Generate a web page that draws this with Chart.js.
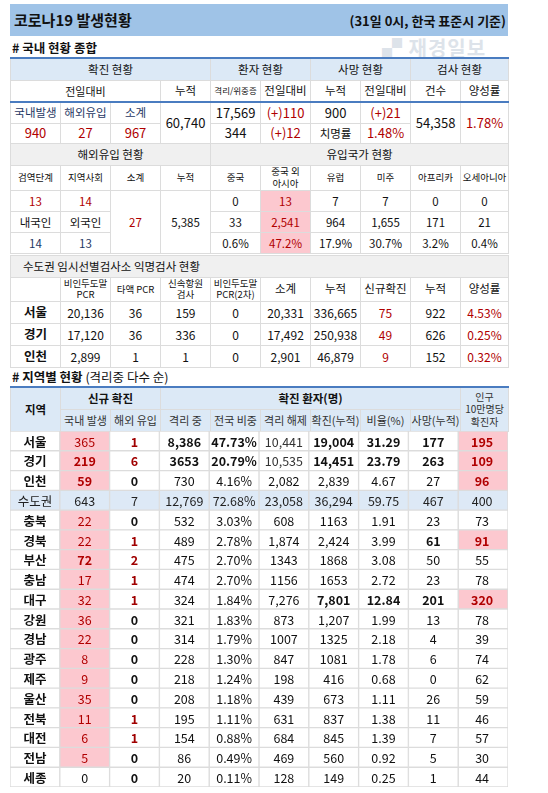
<!DOCTYPE html>
<html><head><meta charset="utf-8">
<script src="https://cdn.jsdelivr.net/npm/chart.js@4"></script>
<style>
body{margin:0;width:548px;height:793px;background:#fff;font-family:"Noto Sans CJK KR","Noto Sans",sans-serif;position:relative;overflow:hidden;color:#111}
.abs{position:absolute}
table{border-collapse:collapse;table-layout:fixed;position:absolute;left:10px;width:498px}
td{border:1px solid #dcdcdc;text-align:center;font-size:11.5px;padding:0;white-space:nowrap;overflow:hidden;line-height:1.1}
.r{color:#b00000}.b{font-weight:bold}.n{color:#1f3864}.pk{background:#fcc8cf}
.hb{background:#dce9f6}.hg{background:#f0f0f0}
.sm{font-size:9.5px}
</style></head><body>
<div class="abs" style="left:10px;top:4px;width:498px;height:32px;background:#9fc3e7"></div>
<div class="abs b" style="left:382px;top:33px;font-size:20px;color:#dde3ea;letter-spacing:1px">▞ 재경일보</div>
<div class="abs" style="left:14px;top:9px;font-size:15px;font-weight:600">코로나19 발생현황</div>
<div class="abs" style="right:42px;top:11px;font-size:13px;font-weight:600">(31일 0시, 한국 표준시 기준)</div>
<div class="abs" style="left:12px;top:38px;font-size:12.5px;font-weight:600"># 국내 현황 종합</div>

<table id="t1" style="top:57px;border-top:2px solid #4a7cc0">
<colgroup><col span="9" style="width:50px"><col style="width:48px"></colgroup>
<tr class="hb" style="height:22px"><td colspan="4">확진 현황</td><td colspan="2">환자 현황</td><td colspan="2">사망 현황</td><td colspan="2">검사 현황</td></tr>
<tr style="height:22px;border-bottom:2px solid #4a7cc0" class="sm"><td colspan="3" style="font-size:11px">전일대비</td><td>누적</td><td style="font-size:8.5px">격리/위중증</td><td>전일대비</td><td>누적</td><td>전일대비</td><td>건수</td><td>양성률</td></tr>
<tr style="height:21px"><td class="n">국내발생</td><td class="n">해외유입</td><td class="n">소계</td><td rowspan="2" id="c_total"></td><td id="c_iso"></td><td class="r" id="c_isod"></td><td id="c_death"></td><td class="r" id="c_dd"></td><td rowspan="2" id="c_tests"></td><td rowspan="2" class="r" id="c_pos"></td></tr>
<tr style="height:21px;border-bottom:3px solid #c8c8c8"><td class="r" id="c_dom"></td><td class="r" id="c_imp"></td><td class="r" id="c_sub"></td><td id="c_crit"></td><td class="r" id="c_critd"></td><td>치명률</td><td class="r" id="c_fat"></td></tr>
</table>

<table id="t2" style="top:143px">
<colgroup><col span="9" style="width:50px"><col style="width:48px"></colgroup>
<tr class="hg" style="height:22px"><td colspan="4">해외유입 현황</td><td colspan="6">유입국가 현황</td></tr>
<tr style="height:25px" id="t2h"></tr>
<tr style="height:21px" id="t2a"></tr>
<tr style="height:21px" id="t2b"></tr>
<tr style="height:21px" id="t2c"></tr>
</table>

<table id="t3" style="top:255px">
<colgroup><col span="9" style="width:50px"><col style="width:48px"></colgroup>
<tr class="hg" style="height:22px"><td colspan="10" style="text-align:left;padding-left:12px;font-size:11.5px">수도권 임시선별검사소 익명검사 현황</td></tr>
<tr style="height:23px" id="t3h"></tr>
</table>

<div class="abs" style="left:12px;top:367px;font-size:12.5px;font-weight:600"># 지역별 현황 <span style="font-weight:normal">(격리중 다수 순)</span></div>
<table style="top:386px;border-top:2px solid #4a7cc0">
<colgroup><col span="9" style="width:50px"><col style="width:48px"></colgroup>
<tr class="hb" style="height:22px"><td rowspan="2" class="b">지역</td><td colspan="2" class="b">신규 확진</td><td colspan="6" class="b">확진 환자(명)</td><td rowspan="2" style="font-size:10px;line-height:1.25;color:#333">인구<br>10만명당<br>확진자</td></tr>
<tr class="hb" style="height:22px" id="rh"></tr>
</table>
<div class="abs" style="left:10px;top:431px;width:498px;height:356px"><canvas id="c"></canvas></div>

<script>
// ---- top summary ----
const summary = {total:"60,740",iso:"17,569",isod:"(+)110",death:"900",dd:"(+)21",tests:"54,358",pos:"1.78%",dom:"940",imp:"27",sub:"967",crit:"344",critd:"(+)12",fat:"1.48%"};
const importHeaders = ["검역단계","지역사회","소계","누적","중국","중국 외<br>아시아","유럽","미주","아프리카","오세아니아"];
const importStage = ["13","14"], importOrigin = ["내국인","외국인"], importNat = ["14","13"];
const importSubtotal = "27", importCum = "5,385";
const originToday = ["0","13","7","7","0","0"];
const originCum = ["33","2,541","964","1,655","171","21"];
const originPct = ["0.6%","47.2%","17.9%","30.7%","3.2%","0.4%"];
const testHeaders = ["","비인두도말<br>PCR","타액 PCR","신속항원<br>검사","비인두도말<br>PCR(2차)","소계","누적","신규확진","누적","양성률"];
const testRegions = ["서울","경기","인천"];
const testRows = [
 ["20,136","36","159","0","20,331","336,665","75","922","4.53%"],
 ["17,120","36","336","0","17,492","250,938","49","626","0.25%"],
 ["2,899","1","1","0","2,901","46,879","9","152","0.32%"]];
// ---- regional ----
const regionHeaders = ["국내 발생","해외 유입","격리 중","전국 비중","격리 해제","확진(누적)","비율(%)","사망(누적)"];
const regions = ["서울","경기","인천","수도권","충북","경북","부산","충남","대구","강원","경남","광주","제주","울산","전북","대전","전남","세종"];
const domestic = [365,219,59,643,22,22,72,17,32,36,22,8,9,35,11,6,5,0];
const imported = [1,6,0,7,0,1,2,1,1,0,0,0,0,0,1,1,0,0];
const isolated = ["8,386","3653","730","12,769","532","489","475","474","324","321","314","228","218","208","195","154","86","20"];
const share = ["47.73%","20.79%","4.16%","72.68%","3.03%","2.78%","2.70%","2.70%","1.84%","1.83%","1.79%","1.30%","1.24%","1.18%","1.11%","0.88%","0.49%","0.11%"];
const released = ["10,441","10,535","2,082","23,058","608","1,874","1343","1156","7,276","873","1007","847","198","439","631","684","469","128"];
const confirmed = ["19,004","14,451","2,839","36,294","1163","2,424","1868","1653","7,801","1,207","1325","1081","416","673","837","845","560","149"];
const ratio = ["31.29","23.79","4.67","59.75","1.91","3.99","3.08","2.72","12.84","1.99","2.18","1.78","0.68","1.11","1.38","1.39","0.92","0.25"];
const deaths = [177,263,27,467,23,61,50,23,201,13,4,6,0,26,11,7,5,1];
const per100k = [195,109,96,400,73,91,55,78,320,78,39,74,62,59,46,57,30,44];
const boldDomestic = ["경기","인천","부산"];
const boldMain = ["서울","경기"];
const boldConfirmed = ["서울","경기","대구"];
const boldDeaths = ["서울","경기","경북","대구"];
const pinkPer100k = ["서울","경기","인천","경북","대구"];

const $=id=>document.getElementById(id);
for(const k in summary){const e=$("c_"+k); if(e) e.textContent=summary[k];}
["c_iso","c_isod","c_death","c_dd","c_dom","c_imp","c_sub","c_crit","c_critd","c_fat","c_pos","c_total","c_tests"].forEach(i=>$(i).style.fontSize="13px");
$("t2h").innerHTML=importHeaders.map(h=>`<td class="sm" style="line-height:1.25">${h}</td>`).join("");
$("t2a").innerHTML=importStage.map(v=>`<td class="r">${v}</td>`).join("")+`<td rowspan="3" class="r">${importSubtotal}</td><td rowspan="3">${importCum}</td>`+originToday.map((v,i)=>`<td class="${i==1?'pk r':''}">${v}</td>`).join("");
$("t2b").innerHTML=importOrigin.map(v=>`<td>${v}</td>`).join("")+originCum.map((v,i)=>`<td class="${i==1?'pk r':''}">${v}</td>`).join("");
$("t2c").innerHTML=importNat.map(v=>`<td class="n">${v}</td>`).join("")+originPct.map((v,i)=>`<td class="${i==1?'pk r':''}">${v}</td>`).join("");
$("t3h").innerHTML=testHeaders.map((h,i)=>`<td style="line-height:1.2;font-size:${i>=5?11.5:9.5}px">${h}</td>`).join("");
const t3=$("t3");
testRegions.forEach((r,ri)=>{const tr=t3.insertRow();tr.style.height="22px";
 tr.innerHTML=`<td style="font-size:12.5px;font-weight:600">${r}</td>`+testRows[ri].map((v,i)=>`<td class="${i==6||i==8?'r':''}" style="font-size:12px">${v}</td>`).join("");});
$("rh").innerHTML=regionHeaders.map(h=>`<td style="font-size:11px;color:#333">${h}</td>`).join("");

// ---- regional grid via Chart.js ----
const cols=[regions,domestic,imported,isolated,share,released,confirmed,ratio,deaths,per100k];
const isSum=r=>r==="수도권";
function bg(c,r){const reg=regions[r];
 if(isSum(reg)) return "#dde9f6";
 if(c===1 && reg!=="세종") return "#fcc8cf";
 if(c===9 && pinkPer100k.includes(reg)) return "#fcc8cf";
 return "#ffffff";}
function style(c,r){const reg=regions[r];let color="#111",bold=false;
 if(isSum(reg)) return {color:"#222",bold:false};
 if(c===0) bold=true;
 if(c===1){color=reg==="세종"?"#111":"#b00000";bold=boldDomestic.includes(reg);}
 if(c===2){bold=true;color=imported[r]>0?"#a00000":"#111";}
 if((c===3||c===4)&&boldMain.includes(reg)) bold=true;
 if(c===5) color=boldMain.includes(reg)?"#333":"#111";
 if((c===6||c===7)&&boldConfirmed.includes(reg)) bold=true;
 if(c===8&&boldDeaths.includes(reg)) bold=true;
 if(c===9&&pinkPer100k.includes(reg)){bold=true;color="#b00000";}
 return {color,bold};}
const datasets=cols.map((arr,c)=>({data:regions.map(()=>[c,c+1]),backgroundColor:regions.map((_,r)=>bg(c,r)),borderColor:"#dcdcdc",borderWidth:1,borderSkipped:false,grouped:false,barPercentage:1,categoryPercentage:1}));
const textPlugin={id:"txt",afterDatasetsDraw(ch){const {ctx,scales:{x,y}}=ch;ctx.save();ctx.textAlign="center";ctx.textBaseline="middle";
 cols.forEach((arr,c)=>arr.forEach((v,r)=>{const s=style(c,r);ctx.fillStyle=s.color;
  ctx.font=(s.bold?"bold ":"")+"12.5px 'Noto Sans CJK KR'";
  ctx.fillText(String(v),x.getPixelForValue(c+0.5)+(c===9?-1:0),y.getPixelForValue(r)+1);}));ctx.restore();}};
new Chart($("c"),{type:"bar",data:{labels:regions,datasets},
 options:{indexAxis:"y",responsive:true,maintainAspectRatio:false,animation:false,layout:{padding:0},
  plugins:{legend:{display:false},tooltip:{enabled:false}},
  scales:{x:{type:"linear",min:0,max:10,display:false},y:{display:false}}},plugins:[textPlugin]});
</script></body></html>
